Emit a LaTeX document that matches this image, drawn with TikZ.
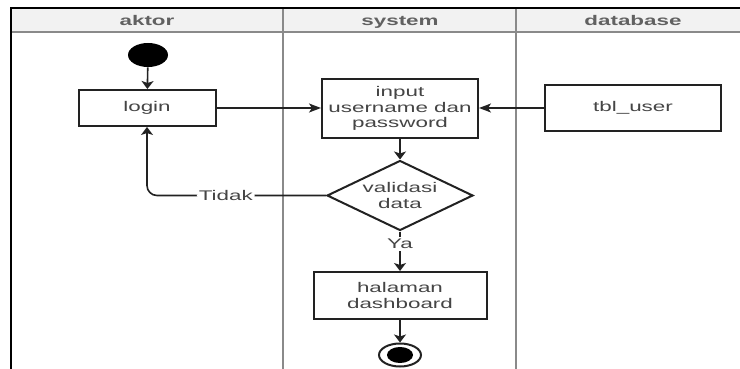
\documentclass[tikz,border=0pt]{standalone}
\usepackage{fontspec}
\setmainfont{Liberation Sans}[FakeStretch=1.6]
\usetikzlibrary{arrows.meta,shapes.geometric}
\definecolor{ink}{HTML}{222222}
\definecolor{txt}{HTML}{454545}
\definecolor{lanehead}{HTML}{F2F2F2}
\definecolor{lanegrid}{HTML}{8A8A8A}

\begin{document}
\begin{tikzpicture}[x=0.5pt,y=-0.5pt,
  every node/.style={font=\fontsize{7}{7.8}\selectfont, text=txt},
  actbox/.style={draw=ink, line width=1pt, fill=white, rectangle, inner sep=0pt, align=center},
  decision/.style={draw=ink, line width=1pt, fill=white, diamond, aspect=2.08, inner sep=0pt, align=center},
  flow/.style={draw=ink, line width=0.8pt},
  vtip/.style={-{Stealth[length=4pt,width=6pt,inset=1pt]}},
  htip/.style={-{Stealth[length=6pt,width=4.5pt,inset=1.5pt]}},
  lanetitle/.style={font=\bfseries\fontsize{7}{7.8}\selectfont, text=txt!85},
  edgelabel/.style={fill=white, inner sep=1pt}
]
\useasboundingbox (0,0) rectangle (740,369);

% swimlanes
\fill[lanehead] (11,8) rectangle (740,32);
\draw[lanegrid, line width=0.8pt] (11,32) -- (740,32);
\draw[lanegrid, line width=0.9pt] (283,8) -- (283,369);
\draw[lanegrid, line width=0.9pt] (516,8) -- (516,369);
\draw[black, line width=1.1pt] (740,8) -- (11,8) -- (11,369);

\node[lanetitle, anchor=base] (laneA) at (147,26) {aktor};
\node[lanetitle, anchor=base] (laneS) at (400,26) {system};
\node[lanetitle, anchor=base] (laneD) at (633,26) {database};

% activity nodes
\node[ellipse, fill=black, inner sep=0pt, minimum width=20pt, minimum height=12pt] (start) at (148,55) {};
\node[actbox, minimum width=68.5pt, minimum height=18pt] (login) at (147,108) {login};
\node[actbox, minimum width=78pt, minimum height=29.5pt] (input) at (400,108.5) {input\\username dan\\password};
\node[actbox, minimum width=88pt, minimum height=23pt] (tbl) at (633,108) {tbl\_user};
\node[decision, minimum width=73pt, minimum height=35pt] (valid) at (400,195.5) {validasi\\data};
\node[actbox, minimum width=86.5pt, minimum height=23.5pt] (dash) at (400,295.5) {halaman\\dashboard};
\node[ellipse, draw=ink, line width=1pt, inner sep=0pt, minimum width=21pt, minimum height=11.5pt] (end) at (400,355) {};
\node[ellipse, fill=black, inner sep=0pt, minimum width=13pt, minimum height=8pt] (endcore) at (end.center) {};

% control flow
\draw[flow, vtip] (start) -- (login);
\draw[flow, htip] (login.east) -- (login.east -| input.west);
\draw[flow, htip] (tbl.west) -- (tbl.west -| input.east);
\draw[flow, vtip] (input) -- (valid);
\draw[flow, vtip, rounded corners=5pt] (valid.west) -| node[edgelabel, pos=0.28] {Tidak} (login.south);
\draw[flow, vtip] (valid) -- node[edgelabel, pos=0.31] {Ya} (dash);
\draw[flow, vtip] (dash) -- (end);
\end{tikzpicture}
\end{document}
